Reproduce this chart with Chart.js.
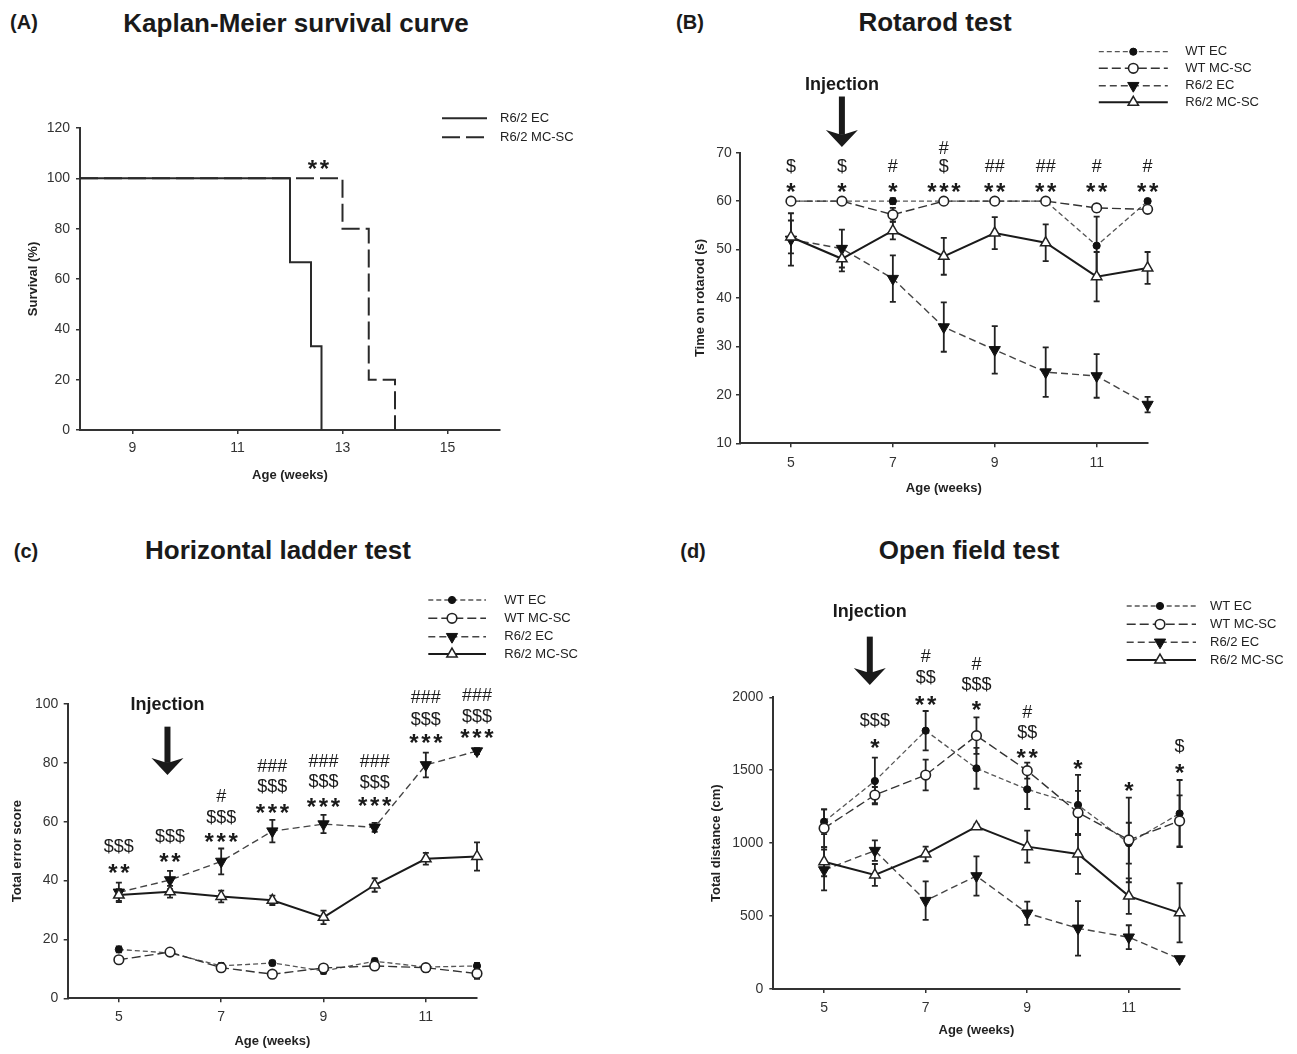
<!DOCTYPE html>
<html>
<head>
<meta charset="utf-8">
<script src="https://cdn.jsdelivr.net/npm/chart.js@4.4.0/dist/chart.umd.min.js"></script>
<style>
  html, body { margin: 0; padding: 0; background: #fff; }
  body { width: 1297px; height: 1054px; position: relative; overflow: hidden;
         font-family: 'Liberation Sans', Arial, sans-serif; color: #1a1a1a; }
  canvas { position: absolute; }
  .lbl, .ttl { position: absolute; font-weight: bold; white-space: nowrap; transform: translate(-50%, -50%); }
  .lbl { font-size: 20px; }
  .ttl { font-size: 26px; }
</style>
</head>
<body>
<div class="lbl" style="left:24px;top:22px">(A)</div>
<div class="ttl" style="left:296px;top:23px">Kaplan-Meier survival curve</div>
<div class="lbl" style="left:690px;top:22px">(B)</div>
<div class="ttl" style="left:935px;top:22px">Rotarod test</div>
<div class="lbl" style="left:26px;top:551px">(c)</div>
<div class="ttl" style="left:278px;top:550px">Horizontal ladder test</div>
<div class="lbl" style="left:693px;top:551px">(d)</div>
<div class="ttl" style="left:969px;top:550px">Open field test</div>

<canvas id="chartA" width="650" height="520" style="left:0;top:0"></canvas>
<canvas id="chartB" width="647" height="520" style="left:650px;top:0"></canvas>
<canvas id="chartC" width="650" height="534" style="left:0;top:520px"></canvas>
<canvas id="chartD" width="647" height="534" style="left:650px;top:520px"></canvas>

<script>
const FONT = "'Liberation Sans', Arial, sans-serif";

// ---- shared ----
const weeks = [5, 6, 7, 8, 9, 10, 11, 12];
const weekTicks = [5, 7, 9, 11];

// ---- (A) Kaplan-Meier ----
const survEcWeeks = [8, 12, 12.4, 12.6];
const survEcPct = [100, 66.7, 33.3, 0];
const survMcWeeks = [8, 13, 13.5, 14];
const survMcPct = [100, 80, 20, 0];
const survXTicks = [9, 11, 13, 15];
const survYTicks = [0, 20, 40, 60, 80, 100, 120];
const survSig = [{ x: 12.54, rows: [['**', 106]] }];

// ---- (B) Rotarod ----
const rotWtEc = [60, 60, 60, 60, 60, 60, 50.8, 60];
const rotWtEcErr = [0, 0, 0.6, 0, 0, 0, 6, 0];
const rotWtMc = [60, 60, 57.2, 60, 60, 60, 58.6, 58.3];
const rotWtMcErr = [0, 0, 1.4, 0, 0, 0, 0.8, 0.6];
const rotR6Ec = [52.1, 50.2, 44, 34, 29.3, 24.7, 23.9, 18];
const rotR6EcErr = [5.4, 3.9, 4.8, 5.1, 4.9, 5.1, 4.5, 1.6];
const rotR6Mc = [52.6, 48.1, 53.9, 48.6, 53.4, 51.4, 44.4, 46.2];
const rotR6McErr = [3.4, 2.6, 1.8, 3.8, 3.3, 3.8, 5.1, 3.3];
const rotYTicks = [10, 20, 30, 40, 50, 60, 70];
const rotSig = [
  { x: 5, rows: [['$', 67], ['*', 63.1]] },
  { x: 6, rows: [['$', 67], ['*', 63.1]] },
  { x: 7, rows: [['#', 67], ['*', 63.1]] },
  { x: 8, rows: [['#', 70.7], ['$', 67], ['***', 63.1]] },
  { x: 9, rows: [['##', 67], ['**', 63.1]] },
  { x: 10, rows: [['##', 67], ['**', 63.1]] },
  { x: 11, rows: [['#', 67], ['**', 63.1]] },
  { x: 12, rows: [['#', 67], ['**', 63.1]] }
];

// ---- (C) Horizontal ladder ----
const ladWtEc = [16.6, 15.4, 11, 12, 9.3, 12.6, 10.6, 11];
const ladWtEcErr = [1, 1, 1, 0.8, 1, 1, 1, 1];
const ladWtMc = [13.1, 15.7, 10.4, 8.2, 10.3, 11, 10.4, 8.4];
const ladWtMcErr = [1, 1, 1.2, 1, 1, 1.2, 1.3, 1.8];
const ladR6Ec = [36, 40.2, 46.5, 56.8, 59.2, 58.1, 79.3, 84];
const ladR6EcErr = [3.3, 3.1, 4.4, 3.8, 3.1, 1.5, 4.2, 1];
const ladR6Mc = [35.1, 36.2, 34.6, 33.3, 27.5, 38.5, 47.4, 48.2];
const ladR6McErr = [2, 2, 2, 1.6, 2.3, 2.3, 2, 4.8];
const ladYTicks = [0, 20, 40, 60, 80, 100];
const ladSig = [
  { x: 5, rows: [['$$$', 51.5], ['**', 44.5]] },
  { x: 6, rows: [['$$$', 54.7], ['**', 48.4]] },
  { x: 7, rows: [['#', 68.3], ['$$$', 61.2], ['***', 55.2]] },
  { x: 8, rows: [['###', 78.7], ['$$$', 71.7], ['***', 64.9]] },
  { x: 9, rows: [['###', 80.4], ['$$$', 73.6], ['***', 67.2]] },
  { x: 10, rows: [['###', 80.4], ['$$$', 73], ['***', 67.4]] },
  { x: 11, rows: [['###', 101.9], ['$$$', 94.6], ['***', 88.9]] },
  { x: 12, rows: [['###', 102.8], ['$$$', 95.7], ['***', 90.6]] }
];

// ---- (D) Open field ----
const ofWtEc = [1147, 1426, 1771, 1513, 1369, 1262, 1000, 1203];
const ofWtEcErr = [85, 160, 135, 140, 135, 206, 140, 230];
const ofWtMc = [1102, 1330, 1467, 1737, 1497, 1209, 1022, 1152];
const ofWtMcErr = [130, 55, 105, 125, 55, 150, 290, 175];
const ofR6Ec = [816, 949, 606, 775, 519, 416, 355, 206];
const ofR6EcErr = [140, 70, 132, 135, 80, 187, 82, 15];
const ofR6Mc = [873, 782, 926, 1113, 976, 926, 637, 522];
const ofR6McErr = [100, 75, 50, 15, 110, 137, 122, 203];
const ofYTicks = [0, 500, 1000, 1500, 2000];
const ofSig = [
  { x: 6, rows: [['$$$', 1840], ['*', 1691]] },
  { x: 7, rows: [['#', 2274], ['$$', 2130], ['**', 1989]] },
  { x: 8, rows: [['#', 2222], ['$$$', 2085], ['*', 1954]] },
  { x: 9, rows: [['#', 1895], ['$$', 1753], ['**', 1627]] },
  { x: 10, rows: [['*', 1547]] },
  { x: 11, rows: [['*', 1400]] },
  { x: 12, rows: [['$', 1656], ['*', 1519]] }
];

// line / marker styles of the four groups
const styles = {
  'WT EC':      { borderColor: '#555', borderWidth: 1.3, borderDash: [5, 3], pointStyle: 'circle', pointRadius: 3.6,
                  pointBackgroundColor: '#111', pointBorderColor: '#111', pointBorderWidth: 1, order: 2 },
  'WT MC-SC':   { borderColor: '#333', borderWidth: 1.4, borderDash: [9, 4], pointStyle: 'circle', pointRadius: 4.8,
                  pointBackgroundColor: '#fff', pointBorderColor: '#222', pointBorderWidth: 1.6, order: 1 },
  'R6/2 EC':    { borderColor: '#444', borderWidth: 1.4, borderDash: [7, 4], pointStyle: 'triangle', pointRotation: 180,
                  pointRadius: 6.5, pointBackgroundColor: '#111', pointBorderColor: '#111', pointBorderWidth: 1, order: 4 },
  'R6/2 MC-SC': { borderColor: '#1a1a1a', borderWidth: 2, borderDash: [], pointStyle: 'triangle', pointRotation: 0,
                  pointRadius: 6, pointBackgroundColor: '#fff', pointBorderColor: '#222', pointBorderWidth: 1.5, order: 3 }
};

function series(label, xs, ys, errs) {
  return Object.assign({
    label: label,
    data: xs.map((x, i) => ({ x: x, y: ys[i] })),
    errors: errs,
    fill: false, tension: 0, clip: false
  }, styles[label]);
}

function starRow(ctx, n, cx, cy) {
  ctx.font = 'bold 24px ' + FONT;
  ctx.textAlign = 'center';
  ctx.textBaseline = 'alphabetic';
  const step = 12;
  for (let k = 0; k < n; k++) ctx.fillText('*', cx + (k - (n - 1) / 2) * step, cy + 14);
}

function makeDecor(opt) {
  return {
    id: 'decor',
    beforeDatasetsDraw(chart) {
      const ctx = chart.ctx, xs = chart.scales.x, ys = chart.scales.y;
      chart.data.datasets.forEach(ds => {
        if (!ds.errors) return;
        ctx.save();
        ctx.strokeStyle = '#222';
        ctx.lineWidth = 1.8;
        ds.data.forEach((p, i) => {
          const e = ds.errors[i];
          if (!e) return;
          const x = xs.getPixelForValue(p.x);
          const y1 = ys.getPixelForValue(p.y + e), y2 = ys.getPixelForValue(p.y - e);
          ctx.beginPath();
          ctx.moveTo(x, y1); ctx.lineTo(x, y2);
          ctx.moveTo(x - 3, y1); ctx.lineTo(x + 3, y1);
          ctx.moveTo(x - 3, y2); ctx.lineTo(x + 3, y2);
          ctx.stroke();
        });
        ctx.restore();
      });
    },
    afterDraw(chart) {
      const ctx = chart.ctx, xs = chart.scales.x, ys = chart.scales.y;
      const ox = opt.origin[0], oy = opt.origin[1];
      ctx.save();
      // legend
      const lg = opt.legend;
      chart.data.datasets.forEach((ds, i) => {
        const y = lg.ys[i] - oy;
        ctx.save();
        ctx.strokeStyle = ds.borderColor;
        ctx.lineWidth = ds.borderWidth;
        ctx.setLineDash(ds.borderDash || []);
        ctx.beginPath();
        ctx.moveTo(lg.x0 - ox, y);
        ctx.lineTo(lg.x1 - ox, y);
        ctx.stroke();
        ctx.restore();
        if (ds.pointRadius > 0) {
          ctx.fillStyle = ds.pointBackgroundColor;
          ctx.strokeStyle = ds.pointBorderColor;
          ctx.lineWidth = ds.pointBorderWidth;
          Chart.helpers.drawPoint(ctx, {
            pointStyle: ds.pointStyle, rotation: ds.pointRotation || 0,
            radius: ds.pointRadius, borderWidth: ds.pointBorderWidth
          }, lg.mx - ox, y);
        }
        ctx.fillStyle = '#222';
        ctx.font = '13px ' + FONT;
        ctx.textAlign = 'left';
        ctx.textBaseline = 'middle';
        ctx.fillText(ds.label, lg.tx - ox, y);
      });
      // significance marks
      ctx.fillStyle = '#1a1a1a';
      opt.sig.forEach(item => {
        const cx = xs.getPixelForValue(item.x);
        item.rows.forEach(([txt, v]) => {
          const cy = ys.getPixelForValue(v);
          if (txt[0] === '*') {
            starRow(ctx, txt.length, cx, cy);
          } else {
            ctx.font = '18px ' + FONT;
            ctx.textAlign = 'center';
            ctx.textBaseline = 'middle';
            ctx.fillText(txt, cx, cy);
          }
        });
      });
      // injection arrow
      if (opt.arrow) {
        const a = opt.arrow;
        const ax = xs.getPixelForValue(a.x);
        const top = ys.getPixelForValue(a.topY), tip = ys.getPixelForValue(a.tipY);
        ctx.fillStyle = '#1a1a1a';
        ctx.fillRect(ax - 3, top, 6, tip - 12 - top);
        ctx.beginPath();
        ctx.moveTo(ax, tip);
        ctx.lineTo(ax - 16, tip - 17);
        ctx.lineTo(ax, tip - 12);
        ctx.lineTo(ax + 16, tip - 17);
        ctx.closePath();
        ctx.fill();
        ctx.font = 'bold 18px ' + FONT;
        ctx.textAlign = 'center';
        ctx.textBaseline = 'middle';
        ctx.fillText('Injection', ax, ys.getPixelForValue(a.textY));
      }
      ctx.restore();
    }
  };
}

function panel(opt) {
  const cv = document.getElementById(opt.id);
  const ox = opt.origin[0], oy = opt.origin[1];
  const W = cv.width, H = cv.height;
  const a = opt.area;
  const yW = a.l - ox, xH = oy + H - a.b;
  const lh = 13 * 1.2;
  const tickFont = { family: FONT, size: 14 };
  const titleFont = { family: FONT, size: 13, weight: 'bold' };
  return new Chart(cv, {
    type: 'line',
    data: { datasets: opt.datasets },
    options: {
      responsive: false, animation: false, devicePixelRatio: 1,
      layout: { padding: { left: 0, top: a.t - oy, right: ox + W - a.r, bottom: 0 } },
      plugins: { legend: { display: false }, tooltip: { enabled: false } },
      elements: { line: { tension: 0 } },
      scales: {
        x: {
          type: 'linear', min: opt.xRange[0], max: opt.xRange[1],
          afterBuildTicks: s => { s.ticks = opt.xTicks.map(v => ({ value: v })); },
          afterFit: s => { s.height = xH; },
          grid: { drawOnChartArea: false, drawTicks: true, tickLength: 4, color: '#333', lineWidth: 1.5 },
          border: { display: true, color: '#333', width: 2 },
          ticks: { font: tickFont, color: '#333', padding: opt.xTickPad, maxRotation: 0, autoSkip: false,
                   callback: v => String(v) },
          title: { display: true, text: 'Age (weeks)', font: titleFont, color: '#222',
                   padding: { top: 0, bottom: oy + H - opt.xTitleY - lh / 2 } }
        },
        y: {
          type: 'linear', min: opt.yRange[0], max: opt.yRange[1],
          afterBuildTicks: s => { s.ticks = opt.yTicks.map(v => ({ value: v })); },
          afterFit: s => { s.width = yW; },
          grid: { drawOnChartArea: false, drawTicks: true, tickLength: 4, color: '#333', lineWidth: 1.5 },
          border: { display: true, color: '#333', width: 2 },
          ticks: { font: tickFont, color: '#333', padding: opt.yTickPad, autoSkip: false,
                   callback: v => String(v) },
          title: { display: true, text: opt.yTitle, font: titleFont, color: '#222',
                   padding: { top: opt.yTitleX - ox - lh / 2, bottom: 0 } }
        }
      }
    },
    plugins: [makeDecor(opt)]
  });
}

// (A)
panel({
  id: 'chartA', origin: [0, 0], area: { l: 80, t: 128, r: 500, b: 430 },
  xRange: [8, 16], yRange: [0, 120], xTicks: survXTicks, yTicks: survYTicks,
  yTitle: 'Survival (%)', yTitleX: 33, xTitleY: 475, xTickPad: 5.5, yTickPad: 6,
  datasets: [
    { label: 'R6/2 EC', data: survEcWeeks.map((x, i) => ({ x: x, y: survEcPct[i] })), stepped: 'before',
      borderColor: '#2a2a2a', borderWidth: 2, borderDash: [], pointRadius: 0, clip: false, order: 2 },
    { label: 'R6/2 MC-SC', data: survMcWeeks.map((x, i) => ({ x: x, y: survMcPct[i] })), stepped: 'before',
      borderColor: '#2a2a2a', borderWidth: 2, borderDash: [18, 6], pointRadius: 0, clip: false, order: 1 }
  ],
  legend: { x0: 442, x1: 487, mx: 464, tx: 500, ys: [118.3, 137.3] },
  sig: survSig
});

// (B)
panel({
  id: 'chartB', origin: [650, 0], area: { l: 740, t: 152.7, r: 1147.6, b: 443.3 },
  xRange: [4, 12], yRange: [10, 70], xTicks: weekTicks, yTicks: rotYTicks,
  yTitle: 'Time on rotarod (s)', yTitleX: 700.6, xTitleY: 488.3, xTickPad: 7, yTickPad: 4.3,
  datasets: [
    series('WT EC', weeks, rotWtEc, rotWtEcErr),
    series('WT MC-SC', weeks, rotWtMc, rotWtMcErr),
    series('R6/2 EC', weeks, rotR6Ec, rotR6EcErr),
    series('R6/2 MC-SC', weeks, rotR6Mc, rotR6McErr)
  ],
  legend: { x0: 1098.8, x1: 1167.8, mx: 1133.3, tx: 1185.3, ys: [51.7, 68.3, 85.7, 102.3] },
  sig: rotSig,
  arrow: { x: 6, textY: 84, topY: 81.6, tipY: 71.2 }
});

// (C)
panel({
  id: 'chartC', origin: [0, 520], area: { l: 67.7, t: 704, r: 477, b: 998.3 },
  xRange: [4, 12], yRange: [0, 100], xTicks: weekTicks, yTicks: ladYTicks,
  yTitle: 'Total error score', yTitleX: 17.3, xTitleY: 1041.7, xTickPad: 6.7, yTickPad: 5.4,
  datasets: [
    series('WT EC', weeks, ladWtEc, ladWtEcErr),
    series('WT MC-SC', weeks, ladWtMc, ladWtMcErr),
    series('R6/2 EC', weeks, ladR6Ec, ladR6EcErr),
    series('R6/2 MC-SC', weeks, ladR6Mc, ladR6McErr)
  ],
  legend: { x0: 428.3, x1: 486, mx: 452, tx: 504.3, ys: [600, 618.3, 636.7, 654] },
  sig: ladSig,
  arrow: { x: 5.95, textY: 99.7, topY: 92.3, tipY: 75.9 }
});

// (D)
panel({
  id: 'chartD', origin: [650, 520], area: { l: 773.3, t: 697.3, r: 1179.6, b: 989 },
  xRange: [4, 12], yRange: [0, 2000], xTicks: weekTicks, yTicks: ofYTicks,
  yTitle: 'Total distance (cm)', yTitleX: 716.9, xTitleY: 1030, xTickPad: 6.4, yTickPad: 6,
  datasets: [
    series('WT EC', weeks, ofWtEc, ofWtEcErr),
    series('WT MC-SC', weeks, ofWtMc, ofWtMcErr),
    series('R6/2 EC', weeks, ofR6Ec, ofR6EcErr),
    series('R6/2 MC-SC', weeks, ofR6Mc, ofR6McErr)
  ],
  legend: { x0: 1126.7, x1: 1196, mx: 1160, tx: 1210, ys: [606, 624.3, 642.3, 660] },
  sig: ofSig,
  arrow: { x: 5.9, textY: 2583, topY: 2416, tipY: 2084 }
});
</script>
</body>
</html>
